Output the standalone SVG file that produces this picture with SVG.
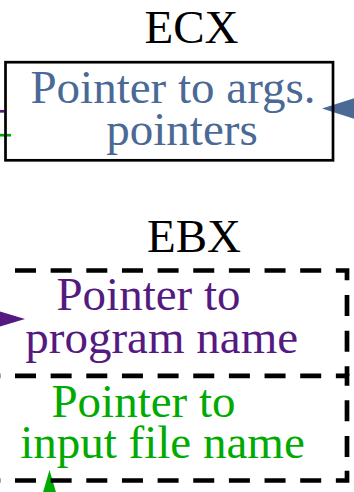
<svg xmlns="http://www.w3.org/2000/svg" width="354" height="492" viewBox="0 0 354 492">
<style>
text{font-family:"Liberation Serif","Times New Roman",serif;font-size:47px;text-anchor:middle}
.lbl{fill:#000}
.blue{fill:#4a6995}
.purple{fill:#551a80}
.green{fill:#00aa00}
.dash{fill:none;stroke:#000;stroke-width:4.7;stroke-dasharray:21 14.65;stroke-linejoin:miter}
</style>
<rect width="354" height="492" fill="#fff"/>
<g id="connectors">
<line x1="-2" y1="111.3" x2="4.5" y2="111.3" stroke="#551a80" stroke-width="2.7"/>
<line x1="-2" y1="135.2" x2="11" y2="135.2" stroke="#00aa00" stroke-width="2.7"/>
<polygon points="322,108.5 356,97.5 356,119.5" fill="#4a6995"/>
<polygon points="25,319 -3,310.6 -3,327.4" fill="#551a80"/>
<polygon points="49.5,470 42.5,494 56.5,494" fill="#00aa00"/>
</g>
<g id="ecx">
<text class="lbl" x="191.5" y="43">ECX</text>
<rect x="5.5" y="62.2" width="327.5" height="98.1" fill="none" stroke="#000" stroke-width="2.7"/>
<text class="blue" x="173" y="103">Pointer to args.</text>
<text class="blue" x="182" y="145">pointers</text>
</g>
<g id="ebx">
<text class="lbl" x="194" y="252">EBX</text>
<path class="dash" d="M15 270.5 H347 V376"/>
<path class="dash" d="M-20.65 375.8 H347 V457"/>
<path class="dash" d="M-20.65 480.5 H347 V466"/>
<g id="program-name">
<text class="purple" x="148.5" y="310">Pointer to</text>
<text class="purple" x="161.7" y="353.3">program name</text>
</g>
<g id="input-file-name">
<text class="green" x="143.5" y="416.7">Pointer to</text>
<text class="green" x="162.5" y="458.3">input file name</text>
</g>
</g>
</svg>
